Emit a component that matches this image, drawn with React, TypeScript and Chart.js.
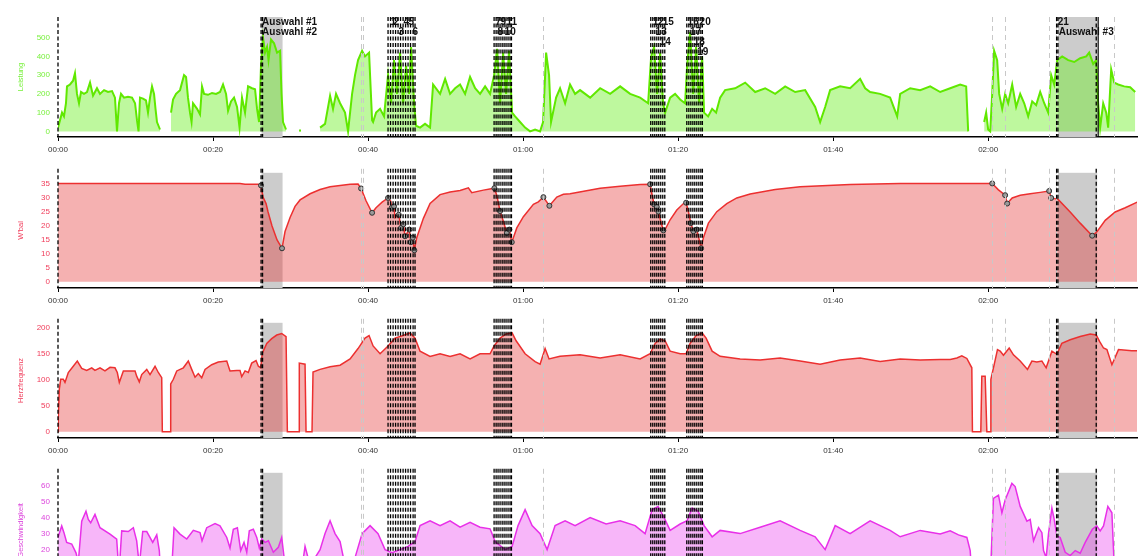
import React, { useEffect, useRef } from "react";
import { Chart, registerables } from "chart.js";
Chart.register(...registerables);

// ---------- axis data ----------
const X_MAX = 139.2; // minutes
const xTickValues = [0, 20, 40, 60, 80, 100, 120];
const xTickLabels = ["00:00", "00:20", "00:40", "01:00", "01:20", "01:40", "02:00"];

// ---------- Leistung (W) ----------
const powerTime = [0, 0.26, 0.52, 0.77, 1.03, 1.16, 1.55, 1.94, 2.19, 2.45, 2.71, 2.97, 3.35, 3.74, 4.13, 4.52, 5.03, 5.42, 5.94, 6.45, 6.97, 7.35, 7.61, 7.87, 8.13, 8.52, 9.03, 9.55, 9.94, 10.19, 10.39, 10.58, 10.97, 11.35, 11.61, 11.87, 12.13, 12.39, 12.58, 12.77, 13.16, 13.3,
  14.58, 14.84, 15.23, 15.74, 16.26, 16.52, 16.77, 17.03, 17.23, 17.42, 17.94, 18.32, 18.58, 18.84, 19.35, 19.87, 20.39, 20.9, 21.29, 21.68, 21.94, 22.32, 22.71, 23.1, 23.42, 23.74, 24.13, 24.52, 25.03, 25.42, 25.68, 25.94, 26.19, 26.45, 26.71, 26.97, 27.16, 27.48, 27.87, 28.26, 28.65, 28.84, 29.03, 29.42, 29.6,
  31.1, 31.35, 31.5,
  33.81, 34.45, 35.1, 35.48, 35.87, 36.39, 37.03, 37.42, 37.94, 38.32, 38.71, 39.23, 39.61, 40.13, 40.52, 40.65, 41.03, 41.55, 42.06, 42.58, 42.97, 43.35, 43.74, 44.13, 44.52, 44.9, 45.29, 45.55, 45.94, 46.19, 46.71, 47.35, 48.0, 48.39, 49.29, 49.94, 50.58, 51.23, 51.87, 52.52, 53.16, 53.81, 54.45, 55.1, 55.74, 56.26, 56.65, 57.03, 57.42, 57.81, 58.19, 58.58, 58.97, 59.61, 60.26, 60.9, 61.55, 62.19, 62.58, 62.97, 63.35, 63.61, 64.26, 64.77, 65.42, 66.06, 66.71, 67.35, 68.65, 69.94, 71.23, 72.52, 73.81, 75.1, 76.13, 76.52, 76.9, 77.29, 77.68, 78.06, 78.32, 78.97, 79.61, 80.26, 80.9, 81.16, 81.55, 81.94, 82.32, 82.71, 83.1, 83.35, 83.87, 84.39, 84.9, 85.42, 86.06, 87.35, 88.65, 89.94, 91.23, 92.52, 93.81, 95.1, 96.39, 97.68, 98.32, 98.97, 99.61, 100.9, 102.19, 103.48, 104.13, 104.77, 106.06, 107.35, 108.26, 108.65, 109.94, 111.23, 112.52, 113.81, 115.1, 116.39, 117.16, 117.42, 117.6,
  119.48, 119.74, 120.0, 120.26, 120.52, 120.77, 121.16, 121.42, 121.81, 122.19, 122.58, 123.1, 123.61, 124.13, 124.65, 125.16, 125.68, 126.19, 126.71, 127.23, 127.74, 128.13, 128.52, 128.9, 129.55, 130.32, 131.1, 131.87, 132.65, 133.03, 133.55, 133.94, 134.19, 134.45, 134.84, 135.23, 135.48, 135.87, 136.26, 136.77, 137.55, 138.32, 138.97];
const powerWatts = [20, 60, 100, 80, 150, 240, 250, 270, 310, 200, 150, 210, 200, 210, 260, 190, 230, 200, 220, 210, 215, 180, 0, 150, 200, 180, 185, 180, 150, 60, 0, 180, 175, 165, 100, 180, 240, 200, 120, 50, 10, null,
  100, 170, 200, 220, 300, 290, 180, 100, 50, 150, 120, 90, 240, 200, 195, 205, 200, 210, 250, 200, 110, 160, 180, 130, 20, 180, 100, 240, 230, 225, 120, 50, 350, 500, 420, 450, 380, 490, 470, 420, 430, 200, 50, 10, null,
  5, 5, null,
  20, 40, 190, 120, 200, 150, 100, 0, 200, 300, 380, 430, 400, 420, 60, 50, 100, 120, 80, 300, 150, 380, 200, 420, 150, 350, 200, 450, 150, 30, 20, 40, 20, 250, 200, 280, 200, 230, 250, 200, 290, 230, 200, 240, 200, 300, 440, 150, 420, 200, 430, 100, 80, 50, 20, 0, 10, 0, 50, 420, 300, 50, 180, 230, 150, 250, 200, 220, 180, 230, 200, 240, 200, 180, 150, 400, 450, 200, 420, 150, 100, 180, 200, 170, 150, 350, 530, 200, 450, 150, 400, 100, 80, 120, 100, 180, 220, 230, 260, 210, 230, 200, 240, 210, 220, 130, 50, 130, 220, 240, 230, 280, 230, 210, 200, 180, 80, 200, 230, 220, 240, 210, 230, 250, 240, 0, null,
  50, 100, 10, 0, 200, 430, 380, 200, 120, 200, 150, 250, 130, 200, 150, 80, 160, 140, 210, 150, 100, 300, 250, 380, 400, 380, 370, 390, 400, 420, 360, 380, 150, 20, 150, 100, 20, 330, 260, 250, 240, 235, 210];

// ---------- W'bal (kJ) ----------
const wbalTime = [0, 23.48, 24.13, 25.81, 26.19, 26.45, 26.84, 27.1, 27.61, 28.26, 28.9, 29.29, 29.94, 30.58, 31.23, 32.52, 33.81, 35.1, 36.39, 37.68, 38.71, 39.1, 39.74, 40.52, 41.03, 41.81, 42.58, 42.93, 43.06, 43.35, 43.48, 43.96, 44.26, 44.56, 44.77, 45.33, 45.51, 45.77, 45.97, 46.28, 47.14, 48.0, 49.29, 50.58, 51.87, 52.94, 53.38, 54.88, 56.3, 56.61, 57.03, 57.46, 57.9, 58.23, 58.54, 59.19, 60.04, 61.33, 61.97, 62.62, 63.39, 64.35, 65.2, 66.06, 69.94, 72.52, 75.1, 76.39, 76.61, 76.9, 77.25, 77.46, 77.77, 78.1, 78.32, 78.97, 79.83, 80.69, 81.03, 81.33, 81.64, 81.97, 82.41, 82.71, 82.97, 83.26, 83.91, 84.99, 86.28, 87.57, 89.29, 92.52, 95.74, 102.19, 108.65, 120.52, 121.29, 122.19, 122.45, 123.1, 124.13, 125.42, 126.71, 127.87, 128.13, 129.03, 130.58, 131.87, 133.42, 134.06, 135.1, 136.39, 137.68, 139.23];
const wbalValues = [35.2, 35.2, 34.9, 34.9, 34.5, 30.3, 28, 25, 20, 15, 12, 18, 23, 27, 29.3, 31.5, 33, 34, 34.5, 34.9, 35.0, 33.4, 29, 24.7, 26.5, 28.5, 30, 28.8, 26.5, 27, 23, 24, 19.3, 20.6, 16.3, 18.7, 14.2, 15.8, 11.3, 15.8, 22.7, 28, 31.2, 32.1, 32.7, 33.6, 31.9, 32.8, 33.5, 30.9, 25.3, 21.6, 17.5, 18.7, 14.2, 19.3, 23.3, 27.7, 28.6, 30.3, 27.2, 30.3, 31.3, 31.5, 33.5, 34.2, 34.8, 34.9, 31.5, 27.7, 26.8, 25.1, 21.6, 18.4, 18.7, 22.2, 25.7, 28, 28.3, 25.1, 21, 18.1, 18.7, 15.2, 12, 15.8, 21, 25.1, 28, 30, 31.4, 33, 34, 34.8, 35.2, 35.2, 33, 31, 28, 30, 31, 31.5, 32, 32.5, 30, 29.5, 25, 21, 16.5, 18, 22, 25, 26.5, 28.5];
const wbalMarkTime = [26.19, 28.9, 39.1, 40.52, 42.58, 43.06, 43.35, 43.96, 44.26, 44.56, 44.77, 45.33, 45.51, 45.77, 45.97, 56.3, 57.03, 57.9, 58.23, 58.54, 62.62, 63.39, 76.39, 76.9, 77.25, 77.46, 78.1, 81.03, 81.64, 81.97, 82.41, 82.97, 120.52, 122.19, 122.45, 127.87, 128.13, 133.42];
const wbalMarkValues = [34.5, 12, 33.4, 24.7, 30, 26.5, 27, 24, 19.3, 20.6, 16.3, 18.7, 14.2, 15.8, 11.3, 33.5, 25.3, 17.5, 18.7, 14.2, 30.3, 27.2, 34.9, 27.7, 26.8, 25.1, 18.4, 28.3, 21, 18.1, 18.7, 12, 35.2, 31, 28, 32.5, 30, 16.5];

// ---------- Herzfrequenz (bpm) ----------
const hrTime = [0, 0.04, 0.17, 0.35, 0.68, 0.9, 1.33, 1.97, 2.49, 3.06, 3.7, 4.35, 4.77, 5.42, 6.06, 6.71, 7.35, 7.65, 7.91, 8.43, 9.94, 10.15, 10.49, 10.8, 11.45, 11.87, 12.52, 12.94, 13.38, 13.46, 14.45, 14.54, 14.88, 15.32, 16.17, 16.81, 17.25, 17.68, 18.1, 18.54, 18.97, 19.83, 20.68, 21.77, 22.19, 23.06, 23.48, 23.7, 24.13, 24.55, 24.99, 25.55, 25.85, 26.15, 26.36, 26.93, 27.57, 28.22, 28.86, 29.42, 29.59, 31.1, 31.13, 31.87, 32.0, 32.77, 32.9, 33.81, 35.1, 36.39, 37.68, 38.71, 39.61, 40.13, 40.65, 41.55, 42.58, 43.48, 44.52, 45.42, 46.06, 46.71, 48.0, 49.29, 50.58, 51.87, 53.16, 54.45, 55.74, 56.26, 57.03, 57.81, 58.58, 59.1, 60.26, 61.55, 62.19, 62.84, 63.35, 64.77, 67.35, 69.94, 72.52, 75.1, 76.39, 77.03, 77.68, 78.32, 78.97, 80.26, 81.03, 81.55, 82.32, 83.1, 83.61, 84.39, 85.42, 88.0, 90.58, 93.16, 95.74, 98.32, 100.9, 103.48, 106.06, 108.65, 111.23, 113.81, 115.1, 115.96, 116.6, 117.25, 117.89, 117.97, 119.05, 119.18, 119.61, 119.83, 120.26, 120.35, 120.68, 121.2, 121.55, 121.97, 122.71, 123.26, 124.13, 125.07, 125.64, 126.28, 126.93, 127.48, 128.22, 128.86, 129.5, 130.58, 131.87, 133.16, 133.94, 134.37, 134.88, 135.32, 135.96, 136.26, 136.81, 138.53, 139.2];
const hrValues = [0, 28, 82, 101, 101, 95, 114, 126, 136, 122, 118, 123, 118, 123, 117, 124, 123, 114, 95, 117, 117, 107, 96, 110, 120, 110, 126, 114, 104, 0, 0, 92, 101, 117, 123, 136, 120, 105, 112, 104, 120, 129, 134, 136, 117, 118, 118, 106, 117, 114, 132, 137, 126, 123, 151, 170, 179, 186, 189, 183, 0, 0, 132, 130, 0, 0, 115, 120, 125, 128, 140, 160, 180, 185, 165, 150, 165, 180, 185, 190, 180, 155, 145, 150, 145, 150, 140, 150, 150, 165, 180, 188, 190, 175, 150, 135, 130, 160, 140, 145, 148, 142, 148, 140, 150, 170, 178, 175, 155, 150, 150, 170, 185, 190, 180, 155, 145, 140, 138, 142, 136, 130, 138, 142, 135, 140, 138, 139, 139, 142, 146, 141, 123, 0, 0, 107, 107, 0, 0, 101, 123, 158, 155, 147, 161, 148, 136, 120, 136, 134, 136, 123, 155, 149, 170, 177, 183, 188, 186, 174, 161, 158, 129, 139, 158, 156, 156];

// ---------- Geschwindigkeit (km/h) ----------
const speedTime = [0, 0.48, 0.77, 1.12, 1.77, 2.32, 2.62, 3.06, 3.61, 3.91, 4.22, 4.77, 5.42, 6.71, 7.57, 7.87, 8.22, 9.07, 9.72, 10.15, 10.49, 10.93, 11.45, 12.22, 12.74, 13.07, 13.29, 14.58, 14.97, 15.74, 16.61, 17.46, 18.32, 18.58, 19.19, 20.26, 20.9, 21.77, 22.19, 22.62, 23.14, 23.57, 24.0, 24.35, 24.68, 25.2, 25.64, 25.97, 26.28, 26.71, 27.14, 27.78, 28.43, 28.86, 29.29, 29.68, 31.23, 31.87, 32.52, 33.81, 34.45, 35.1, 35.74, 36.39, 37.03, 38.32, 39.23, 40.26, 41.29, 42.19, 43.1, 44.13, 45.16, 46.06, 46.71, 48.0, 49.29, 50.58, 51.87, 53.16, 54.45, 55.74, 56.39, 57.68, 58.58, 59.35, 60.26, 61.16, 62.19, 63.1, 64.13, 65.42, 66.71, 68.65, 70.71, 72.52, 74.45, 75.74, 76.65, 77.42, 78.19, 78.97, 80.26, 81.16, 81.81, 82.58, 83.35, 84.39, 85.42, 88.0, 90.58, 93.16, 95.74, 97.68, 98.97, 100.26, 102.19, 104.77, 107.35, 108.65, 111.23, 113.81, 115.1, 116.17, 117.25, 117.68, 117.94, 120.26, 120.68, 121.33, 121.77, 122.19, 123.06, 123.48, 124.13, 125.0, 125.42, 125.85, 126.5, 126.93, 127.14, 127.48, 127.78, 128.22, 128.52, 128.86, 129.29, 129.94, 130.58, 131.23, 131.87, 132.52, 133.44, 134.0, 134.45, 134.88, 135.44, 135.96, 136.26, 136.39, 139.2];
const speedValues = [27.6, 34.8, 30.6, 24.5, 23.5, 18, 12, 37.8, 44, 38.9, 36.8, 42, 33.7, 29.7, 26.6, 5, 31.7, 31.3, 33.7, 25.5, 10, 31.3, 31.3, 24.5, 29.2, 19.4, 0, 0, 33.7, 29.7, 26.6, 32, 30.6, 25.5, 33.7, 36.2, 34.8, 27.6, 21, 32.7, 33.7, 19.4, 24.5, 18.3, 31.7, 32.7, 27.6, 21, 26.6, 24.5, 25.5, 18.3, 21.4, 27.6, 10, 0, 0, 22, 10, 20, 30, 38, 30, 25, 10, 15, 30, 35, 30, 20, 18, 20, 22, 25, 35, 38, 35, 38, 34, 37, 34, 33, 25, 20, 22, 35, 45, 35, 30, 20, 35, 38, 35, 40, 36, 38, 35, 30, 45, 47, 40, 32, 36, 38, 46, 44, 35, 28, 32, 30, 34, 38, 32, 28, 20, 35, 30, 38, 32, 28, 32, 29.7, 31.7, 29.2, 27.6, 19.4, 0, 0, 52, 54, 43, 51, 61.4, 59.4, 47, 37.8, 38.9, 25.5, 33.7, 30.6, 19.4, 15, 29.7, 46, 38.9, 28.6, 27.6, 18.3, 16.3, 19.4, 17.7, 24.5, 32.7, 34.8, 31.7, 34.8, 47, 43, 10, 0, 0];

// ---------- annotations ----------
const selectionStart = [26.26, 129.03];
const selectionEnd = [28.97, 134.06];
const lapLineTimes = [0, 26.2, 26.39,
  42.58, 42.9, 43.23, 43.55, 43.87, 44.19, 44.52, 44.84, 45.16, 45.48, 45.81, 46.06,
  56.26, 56.52, 56.77, 57.03, 57.3, 57.55, 57.8, 58.06, 58.32, 58.5,
  76.47, 76.73, 76.99, 77.25, 77.5, 77.76, 78.02, 78.28,
  81.12, 81.38, 81.64, 81.9, 82.15, 82.41, 82.67, 82.93, 83.13,
  128.83, 129.0, 133.94];
const intervalLineTimes = [39.03, 39.29, 62.58, 120.55, 122.23, 127.9, 128.7, 136.17];
const selectionEndLine = [134.19];
const labelTexts = ["Auswahl #1", "Auswahl #2", "1", "2", "3", "4", "5", "6", "7", "8", "9", "10", "11", "12", "13", "14", "15", "16", "17", "18", "19", "20", "21", "Auswahl #3"];
const labelTimes = [26.26, 26.26, 42.84, 43.23, 43.87, 44.52, 45.16, 45.68, 56.39, 56.65, 57.03, 57.55, 57.81, 76.65, 77.03, 77.55, 77.94, 81.16, 81.48, 81.94, 82.39, 82.71, 128.9, 129.03];
const labelRows = [0, 1, 0, 0, 1, 0, 0, 1, 0, 1, 0, 1, 0, 0, 1, 2, 0, 0, 1, 2, 3, 0, 0, 1];

const FONT = "'Liberation Sans', Arial, Helvetica, sans-serif";

function toPoints(ts: number[], vs: (number | null)[]) {
  return ts.map((t, i) => ({ x: t, y: vs[i] }));
}

function makeOverlay(showLabels: boolean) {
  return {
    id: "overlay",
    beforeDatasetsDraw(chart: any) {
      const { ctx, chartArea, scales } = chart;
      const x = scales.x;
      ctx.save();
      ctx.fillStyle = "#cccccc";
      selectionStart.forEach((s, i) => {
        const x0 = x.getPixelForValue(s);
        const x1 = x.getPixelForValue(selectionEnd[i]);
        ctx.fillRect(x0, chartArea.top, x1 - x0, chartArea.bottom - chartArea.top);
      });
      ctx.restore();
    },
    afterDatasetsDraw(chart: any) {
      const { ctx, chartArea, scales } = chart;
      const x = scales.x;
      const top = showLabels ? chartArea.top : chartArea.top - 4;
      ctx.save();
      ctx.beginPath();
      ctx.rect(chartArea.left - 2, 0, chartArea.right - chartArea.left + 4, chart.height);
      ctx.clip();
      ctx.strokeStyle = "#c8c8c8";
      ctx.lineWidth = 1;
      ctx.setLineDash([5, 4]);
      intervalLineTimes.forEach((t) => {
        const px = Math.round(x.getPixelForValue(t)) + 0.5;
        ctx.beginPath();
        ctx.moveTo(px, top);
        ctx.lineTo(px, chartArea.bottom);
        ctx.stroke();
      });
      ctx.strokeStyle = "#000";
      ctx.lineWidth = 1.3;
      ctx.setLineDash([4, 2.5]);
      lapLineTimes.forEach((t) => {
        const px = x.getPixelForValue(t);
        ctx.beginPath();
        ctx.moveTo(px, top);
        ctx.lineTo(px, chartArea.bottom);
        ctx.stroke();
      });
      if (showLabels) {
        ctx.setLineDash([]);
        ctx.lineWidth = 1.2;
        selectionEndLine.forEach((t) => {
          const px = x.getPixelForValue(t);
          ctx.beginPath();
          ctx.moveTo(px, top);
          ctx.lineTo(px, chartArea.bottom);
          ctx.stroke();
        });
      }
      ctx.restore();
    },
    afterDraw(chart: any) {
      if (!showLabels) return;
      const { ctx, scales } = chart;
      const x = scales.x;
      ctx.save();
      ctx.font = "bold 10px " + FONT;
      ctx.fillStyle = "#111";
      ctx.textBaseline = "top";
      ctx.textAlign = "left";
      labelTexts.forEach((txt, i) => {
        const px = x.getPixelForValue(labelTimes[i]) + 0.5;
        ctx.fillText(txt, px, 17 + labelRows[i] * 10);
      });
      ctx.restore();
    },
  };
}

type PanelCfg = {
  height: number;
  padTop: number;
  xAxisH: number;
  yMin: number;
  yMax: number;
  yTicks: number[];
  title: string;
  axisColor: string;
  datasets: any[];
  labels: boolean;
};

function buildConfig(p: PanelCfg): any {
  return {
    type: "line",
    data: { datasets: p.datasets },
    plugins: [makeOverlay(p.labels)],
    options: {
      animation: false,
      responsive: false,
      devicePixelRatio: 1,
      parsing: false,
      normalized: true,
      layout: { padding: { top: p.padTop, right: 3, left: 0, bottom: 0 }, autoPadding: false },
      plugins: { legend: { display: false }, tooltip: { enabled: false } },
      elements: { point: { radius: 0 }, line: { tension: 0 } },
      scales: {
        x: {
          type: "linear",
          min: 0,
          max: X_MAX,
          afterBuildTicks: (s: any) => {
            s.ticks = xTickValues.map((v) => ({ value: v }));
          },
          afterFit: (s: any) => {
            s.height = p.xAxisH;
          },
          ticks: {
            autoSkip: false,
            maxRotation: 0,
            padding: 4,
            color: "#333",
            font: { family: FONT, size: 8 },
            callback: (_v: any, i: number) => xTickLabels[i],
          },
          grid: { drawOnChartArea: false, drawTicks: true, tickLength: 4, color: "#000", lineWidth: 1 },
          border: { display: true, color: "#000", width: 1.5 },
        },
        y: {
          type: "linear",
          min: p.yMin,
          max: p.yMax,
          afterBuildTicks: (s: any) => {
            s.ticks = p.yTicks.map((v) => ({ value: v }));
          },
          afterFit: (s: any) => {
            s.width = 58;
          },
          grid: { display: false, drawTicks: false },
          border: { display: false },
          ticks: { color: p.axisColor, padding: 8, font: { family: FONT, size: 8 } },
          title: {
            display: true,
            text: p.title,
            color: p.axisColor,
            font: { family: FONT, size: 7.5 },
            padding: { top: 16.5, bottom: 0 },
          },
        },
      },
    },
  };
}

function Panel({ cfg, top }: { cfg: PanelCfg; top: number }) {
  const ref = useRef<HTMLCanvasElement | null>(null);
  useEffect(() => {
    if (!ref.current) return;
    const chart = new Chart(ref.current, buildConfig(cfg));
    return () => chart.destroy();
  }, []);
  return (
    <canvas
      ref={ref}
      width={1140}
      height={cfg.height}
      style={{ position: "absolute", left: 0, top, width: 1140, height: cfg.height }}
    />
  );
}

const greenLine = "rgb(96,232,0)";
const redLine = "rgb(236,48,48)";
const magentaLine = "rgb(232,48,232)";

const panels: { cfg: PanelCfg; top: number }[] = [
  {
    top: 0,
    cfg: {
      height: 160, padTop: 17, xAxisH: 23, yMin: -30, yMax: 610,
      yTicks: [0, 100, 200, 300, 400, 500], title: "Leistung", axisColor: "rgb(120,240,60)", labels: true,
      datasets: [{
        data: toPoints(powerTime, powerWatts), borderColor: greenLine, borderWidth: 2,
        backgroundColor: "rgba(110,240,40,0.45)", fill: "origin", spanGaps: false, pointRadius: 0,
      }],
    },
  },
  {
    top: 160,
    cfg: {
      height: 150, padTop: 11, xAxisH: 22, yMin: -2.2, yMax: 39,
      yTicks: [0, 5, 10, 15, 20, 25, 30, 35], title: "W'bal", axisColor: "rgb(240,60,90)", labels: false,
      datasets: [
        {
          data: toPoints(wbalMarkTime, wbalMarkValues), showLine: false, pointRadius: 2.5,
          pointBackgroundColor: "#9a9a9a", pointBorderColor: "#333", pointBorderWidth: 1, fill: false,
        },
        {
          data: toPoints(wbalTime, wbalValues), borderColor: redLine, borderWidth: 1.5,
          backgroundColor: "rgba(230,50,50,0.38)", fill: "origin", pointRadius: 0,
        },
      ],
    },
  },
  {
    top: 310,
    cfg: {
      height: 150, padTop: 11, xAxisH: 22, yMin: -11.9, yMax: 209.5,
      yTicks: [0, 50, 100, 150, 200], title: "Herzfrequenz", axisColor: "rgb(240,60,90)", labels: false,
      datasets: [{
        data: toPoints(hrTime, hrValues), borderColor: redLine, borderWidth: 1.5,
        backgroundColor: "rgba(230,50,50,0.38)", fill: "origin", pointRadius: 0,
      }],
    },
  },
  {
    top: 460,
    cfg: {
      height: 150, padTop: 11, xAxisH: 22, yMin: -4, yMax: 68,
      yTicks: [0, 10, 20, 30, 40, 50, 60], title: "Geschwindigkeit", axisColor: "rgb(220,70,220)", labels: false,
      datasets: [{
        data: toPoints(speedTime, speedValues), borderColor: magentaLine, borderWidth: 1.5,
        backgroundColor: "rgba(235,80,240,0.42)", fill: "origin", pointRadius: 0,
      }],
    },
  },
];

export default function App() {
  return (
    <div
      style={{
        position: "absolute", left: 0, top: 0, width: 1140, height: 556,
        overflow: "hidden", background: "#fff",
      }}
    >
      {panels.map((p, i) => (
        <Panel key={i} cfg={p.cfg} top={p.top} />
      ))}
    </div>
  );
}
